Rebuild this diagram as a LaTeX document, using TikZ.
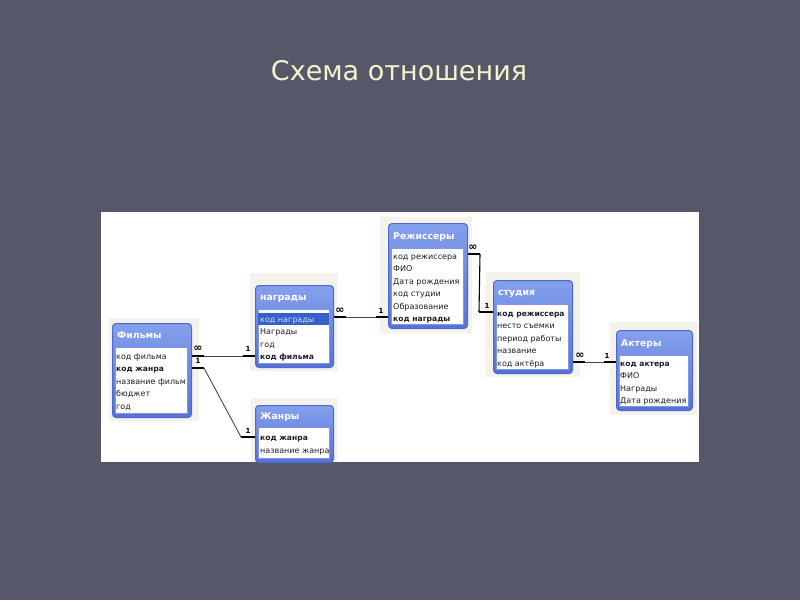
\documentclass[tikz,border=0pt]{standalone}
\usepackage{fontspec}
\setmainfont{DejaVu Sans}
\usetikzlibrary{calc}
\definecolor{slidebg}{RGB}{86,88,106}
\definecolor{titlecol}{RGB}{245,242,205}
\definecolor{hdrtop}{RGB}{132,160,236}
\definecolor{hdrbot}{RGB}{86,114,216}
\definecolor{boxline}{RGB}{78,104,205}
\definecolor{beige}{RGB}{244,242,235}
\definecolor{selrow}{RGB}{52,98,200}
\definecolor{fieldtxt}{RGB}{30,30,40}
\tikzset{
  tblbox/.style={rounded corners=3.5pt, top color=hdrtop, bottom color=hdrbot, draw=boxline, line width=1pt, inner sep=0pt},
  hdrtext/.style={font=\fontsize{9.3}{10}\selectfont\bfseries, text=white, inner sep=0pt},
  fld/.style={font=\fontsize{8}{9}\selectfont, text=fieldtxt, inner sep=0pt, anchor=base west, yshift=-3pt},
  fldb/.style={fld, font=\fontsize{7.6}{9}\selectfont\bfseries},
  rel/.style={font=\fontsize{7}{8}\selectfont\bfseries, text=black, inner sep=0pt},
  relinf/.style={font=\fontsize{11}{11}\selectfont\bfseries, text=black, inner sep=0pt},
  stub/.style={line width=2.2pt, black},
  link/.style={line width=0.9pt, draw={rgb,255:red,70;green,70;blue,70}},
}
\newcommand\tblpanel[7]{%
  \node[tblbox, anchor=north west, minimum width={(#4-#2)*1pt}, minimum height={(#5-#3)*1pt}] (#1) at (#2,#3) {};
  \fill[white] (#2+3,#6) rectangle (#4-4,#5-4);
  \draw[boxline!70, line width=0.4pt] (#2+3,#6) rectangle (#4-4,#5-4);
  \node[hdrtext, anchor=base west] (#1-title) at (#2+5,{(#3+#6)/2+3.5}) {#7};
}
\begin{document}
\begin{tikzpicture}[x=1pt,y=-1pt]
\fill[slidebg] (0,0) rectangle (800,600);
\useasboundingbox (0,0) rectangle (800,600);
\node[text=titlecol, font=\fontsize{27}{32}\selectfont, inner sep=0pt] (title) at (399,71) {Схема отношения};
% white panel
\fill[white] (101,212) rectangle (699,462);
% beige window traces
\fill[beige] (109,318) rectangle (199,421);
\fill[beige] (250,273) rectangle (338,371);
\fill[beige] (251,398) rectangle (338,462);
\fill[beige] (380,217) rectangle (472,333);
\fill[beige] (486,272) rectangle (580,377);
\fill[beige] (610,322) rectangle (697,415);

% Фильмы
\tblpanel{films}{112}{323}{191}{417}{347}{Фильмы}
\node[fld] (f1) at (116,356.5) {код фильма};
\node[fldb] (f2) at (116,368.5) {код жанра};
\begin{scope}
\clip (115,372) rectangle (187,388);
\node[fld] (f3) at (116,381) {название фильм};
\end{scope}
\node[fld] (f4) at (116,393.5) {бюджет};
\node[fld] (f5) at (116,406) {год};

% награды
\tblpanel{nag}{255}{285}{333}{367}{309}{награды}
\fill[selrow] (258,313) rectangle (329,325);
\node[fld, text=white!85!blue] (n1) at (260,319) {код награды};
\node[fld] (n2) at (260,331.5) {Награды};
\node[fld] (n3) at (260,344) {год};
\node[fldb] (n4) at (260,356.5) {код фильма};

% Жанры
\tblpanel{zh}{255}{405}{333}{462}{427}{Жанры}
\node[fldb] (z1) at (260,437.5) {код жанра};
\node[fld] (z2) at (260,450) {название жанра};

% Режиссеры
\tblpanel{rez}{388}{223}{467}{328}{248}{Режиссеры}
\node[fld] (r1) at (393,256) {код режиссера};
\node[fld] (r2) at (393,268.5) {ФИО};
\node[fld] (r3) at (393,281) {Дата рождения};
\node[fld] (r4) at (393,293.5) {код студии};
\node[fld] (r5) at (393,306) {Образование};
\node[fldb] (r6) at (393,318.5) {код награды};

% студия
\tblpanel{stu}{493}{280}{572}{373}{304}{студия}
\node[fldb] (s1) at (497,313) {код режиссера};
\node[fld] (s2) at (497,325.5) {несто съемки};
\node[fld] (s3) at (497,338) {период работы};
\node[fld] (s4) at (497,350.5) {название};
\node[fld] (s5) at (497,363) {код актёра};

% Актеры
\tblpanel{akt}{616}{330}{692}{410}{355}{Актеры}
\node[fldb] (a1) at (620,363) {код актера};
\node[fld] (a2) at (620,375.5) {ФИО};
\node[fld] (a3) at (620,388) {Награды};
\node[fld] (a4) at (620,400.5) {Дата рождения};

% relation 1: Фильмы -> награды
\draw[stub] (films.east |- 0,356) -- ++(12,0) coordinate (c1a);
\draw[stub] (nag.west |- 0,356) -- ++(-12,0) coordinate (c1b);
\draw[link] (c1a) -- (c1b);
\node[relinf] (l1a) at (198,348.5) {∞};
\node[rel] (l1b) at (248,349) {1};
% relation 2: Фильмы -> Жанры
\draw[stub] (films.east |- 0,368) -- ++(12,0) coordinate (c2a);
\draw[stub] (zh.west |- 0,437) -- ++(-14,0) coordinate (c2b);
\draw[link] (c2a) -- (c2b);
\node[rel] (l2a) at (198,361) {1};
\node[rel] (l2b) at (248,431) {1};
% relation 3: награды -> Режиссеры
\draw[stub] (nag.east |- 0,317) -- ++(12,0) coordinate (c3a);
\draw[stub] (rez.west |- 0,317) -- ++(-12,0) coordinate (c3b);
\draw[link] (c3a) -- (c3b);
\node[relinf] (l3a) at (340,310.5) {∞};
\node[rel] (l3b) at (381,311) {1};
% relation 4: Режиссеры -> студия
\draw[stub] (rez.east |- 0,254) -- ++(12,0) coordinate (c4a);
\draw[stub] (stu.west |- 0,312) -- ++(-14,0) coordinate (c4b);
\draw[link, black, line width=1.1pt] (c4a) -- (c4b);
\node[relinf] (l4a) at (473,247.5) {∞};
\node[rel] (l4b) at (487,306) {1};
% relation 5: студия -> Актеры
\draw[stub] (stu.east |- 0,362) -- ++(12,0) coordinate (c5a);
\draw[stub] (akt.west |- 0,362) -- ++(-12,0) coordinate (c5b);
\draw[link] (c5a) -- (c5b);
\node[relinf] (l5a) at (580,355.5) {∞};
\node[rel] (l5b) at (607,356) {1};
\end{tikzpicture}
\end{document}
